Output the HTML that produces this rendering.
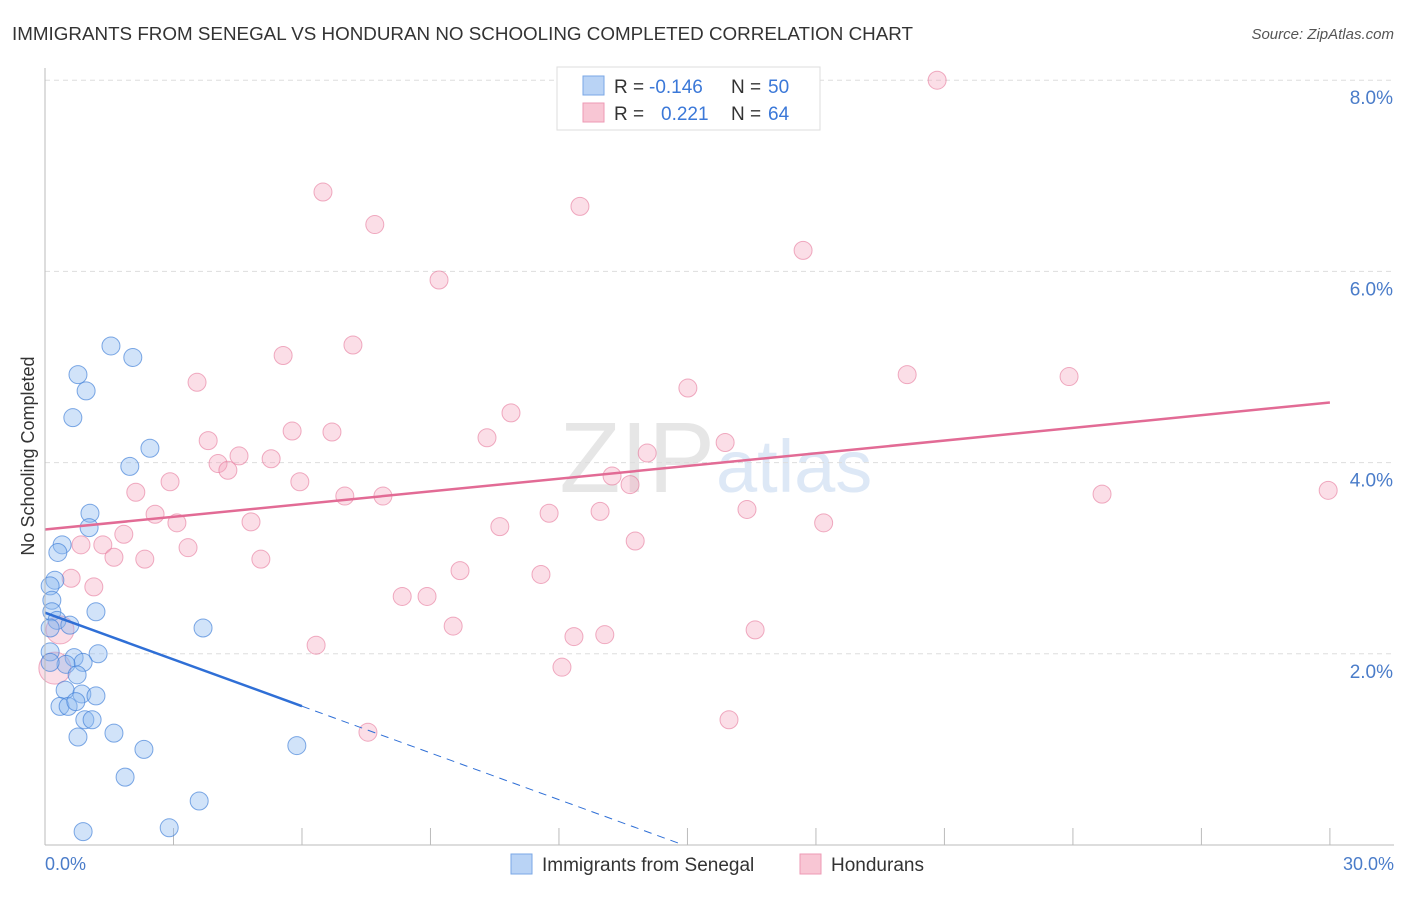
<!DOCTYPE html>
<html><head><meta charset="utf-8"><style>
body{margin:0;background:#fff;font-family:"Liberation Sans",sans-serif}
svg text{font-family:"Liberation Sans",sans-serif}
</style></head><body>
<svg id="c" width="1406" height="892" xmlns="http://www.w3.org/2000/svg">
<text x="12" y="40" font-size="18" fill="#333" textLength="901" lengthAdjust="spacingAndGlyphs">IMMIGRANTS FROM SENEGAL VS HONDURAN NO SCHOOLING COMPLETED CORRELATION CHART</text>
<text x="1394" y="39" font-size="15" fill="#555" font-style="italic" text-anchor="end">Source: ZipAtlas.com</text>
<text x="715" y="492" font-size="100" fill="#e6e6e6" text-anchor="end" font-family="Liberation Serif">ZIP</text>
<text x="716" y="492" font-size="74" fill="#dde8f6">atlas</text>
<g id="grid"></g><g id="pts"></g><g id="lines"></g>
<line x1="45" y1="68" x2="45" y2="845" stroke="#bbb"/>
<line x1="45" y1="845" x2="1394" y2="845" stroke="#bbb"/>
<text transform="translate(34,456) rotate(-90)" font-size="18" fill="#333" text-anchor="middle">No Schooling Completed</text>
<text x="45" y="870" font-size="18" fill="#4a7cc9">0.0%</text>
<text x="1394" y="870" font-size="18" fill="#4a7cc9" text-anchor="end">30.0%</text>
<g>
<rect x="557" y="67" width="263" height="63" fill="#fff" stroke="#ddd"/>
<rect x="583" y="76" width="21" height="19" fill="#b9d3f5" stroke="#7aa7e6"/>
<rect x="583" y="103" width="21" height="19" fill="#f8c6d4" stroke="#ee9ab4"/>
<text x="614" y="93" font-size="19" fill="#333">R =</text>
<text x="649" y="93" font-size="19" fill="#3b78d8">-0.146</text>
<text x="731" y="93" font-size="19" fill="#333">N =</text>
<text x="768" y="93" font-size="19" fill="#3b78d8">50</text>
<text x="614" y="120" font-size="19" fill="#333">R =</text>
<text x="661" y="120" font-size="19" fill="#3b78d8">0.221</text>
<text x="731" y="120" font-size="19" fill="#333">N =</text>
<text x="768" y="120" font-size="19" fill="#3b78d8">64</text>
</g>
<g>
<rect x="511" y="854" width="21" height="20" fill="#b9d3f5" stroke="#7aa7e6"/>
<text x="542" y="871" font-size="19" fill="#333">Immigrants from Senegal</text>
<rect x="800" y="854" width="21" height="20" fill="#f8c6d4" stroke="#ee9ab4"/>
<text x="831" y="871" font-size="19" fill="#333">Hondurans</text>
</g>
</svg>
<script>
const yTicks=[2,4,6,8];
const yTickLabels=["2.0%","4.0%","6.0%","8.0%"];
const xTicks=[0,3,6,9,12,15,18,21,24,27,30];
const blueX=[1.54,2.05,0.77,0.96,0.65,2.45,1.98,1.05,1.03,0.40,0.30,0.23,0.12,0.16,0.16,1.19,0.28,0.58,3.69,0.12,1.24,0.12,0.68,0.89,0.49,0.12,0.75,0.47,0.86,1.19,0.35,0.54,0.72,0.93,1.10,1.61,0.77,2.31,5.88,1.87,3.60,0.89,2.90];
const blueY=[5.22,5.10,4.92,4.75,4.47,4.15,3.96,3.47,3.32,3.14,3.06,2.77,2.71,2.56,2.44,2.44,2.35,2.30,2.27,2.27,2.00,2.02,1.96,1.91,1.89,1.91,1.78,1.62,1.58,1.56,1.45,1.45,1.50,1.31,1.31,1.17,1.13,1.00,1.04,0.71,0.46,0.14,0.18];
const pinkX=[20.83,6.49,7.70,12.49,17.70,9.20,5.56,7.19,3.55,20.13,23.91,15.01,10.88,3.81,5.77,6.70,10.32,15.88,4.53,5.28,4.04,4.27,14.06,13.24,13.66,2.12,2.92,5.95,7.00,7.89,24.68,29.96,2.57,3.08,4.81,11.77,12.96,16.39,18.18,10.62,1.84,0.84,1.35,3.34,13.78,1.61,2.33,5.04,9.69,11.58,0.61,1.14,8.34,8.92,9.53,12.35,13.07,16.58,6.33,12.07,0.23,0.35,7.54,15.97];
const pinkY=[8.0,6.83,6.49,6.68,6.22,5.91,5.12,5.23,4.84,4.92,4.90,4.78,4.52,4.23,4.33,4.32,4.26,4.21,4.07,4.04,3.99,3.92,4.10,3.86,3.77,3.69,3.80,3.80,3.65,3.65,3.67,3.71,3.46,3.37,3.38,3.47,3.49,3.51,3.37,3.33,3.25,3.14,3.14,3.11,3.18,3.01,2.99,2.99,2.87,2.83,2.79,2.70,2.60,2.60,2.29,2.18,2.20,2.25,2.09,1.86,1.85,2.25,1.18,1.31];
const pinkR=[9,9,9,9,9,9,9,9,9,9,9,9,9,9,9,9,9,9,9,9,9,9,9,9,9,9,9,9,9,9,9,9,9,9,9,9,9,9,9,9,9,9,9,9,9,9,9,9,9,9,9,9,9,9,9,9,9,9,9,9,16,14,9,9];
const blueFit=[2.43,-0.163];
const pinkFit=[3.30,0.0443];
const NS="http://www.w3.org/2000/svg";
const sx=v=>45+v*42.83, sy=v=>845-v*95.6;
function mk(t,a,p){const e=document.createElementNS(NS,t);for(const k in a)e.setAttribute(k,a[k]);p.appendChild(e);return e;}
const g=document.getElementById('grid'),pts=document.getElementById('pts'),ln=document.getElementById('lines');
yTicks.forEach((v,i)=>{
const l=mk('line',{x1:45,x2:1394,y1:sy(v),y2:sy(v),stroke:'#ddd','stroke-dasharray':'5,4'},g);


const t=mk('text',{x:1393,y:sy(v)+24,'font-size':19,fill:'#4a7cc9','text-anchor':'end'},g);t.textContent=yTickLabels[i];


});
xTicks.forEach(v=>{
const l=mk('line',{x1:sx(v),x2:sx(v),y1:828,y2:845,stroke:'#bbb'},g);


});
pinkX.forEach((x,i)=>{
const c=mk('circle',{cx:sx(x),cy:sy(pinkY[i]),r:pinkR[i],fill:'rgba(244,160,186,0.35)',stroke:'rgba(230,120,155,0.6)','stroke-width':1},pts);


});
blueX.forEach((x,i)=>{
const c=mk('circle',{cx:sx(x),cy:sy(blueY[i]),r:9,fill:'rgba(140,185,240,0.4)',stroke:'rgba(60,125,215,0.65)','stroke-width':1},pts);


});
const bx1=6, bx2=(0-blueFit[0])/blueFit[1];
let l1=mk('line',{x1:sx(0),y1:sy(blueFit[0]),x2:sx(bx1),y2:sy(blueFit[0]+blueFit[1]*bx1),stroke:'#2f6fd6','stroke-width':2.5},ln);


let l2=mk('line',{x1:sx(bx1),y1:sy(blueFit[0]+blueFit[1]*bx1),x2:sx(bx2),y2:sy(0),stroke:'#2f6fd6','stroke-width':1,'stroke-dasharray':'8,6'},ln);


let l3=mk('line',{x1:sx(0),y1:sy(pinkFit[0]),x2:sx(30),y2:sy(pinkFit[0]+pinkFit[1]*30),stroke:'#e26b95','stroke-width':2.5},ln);


</script>
</body></html>
